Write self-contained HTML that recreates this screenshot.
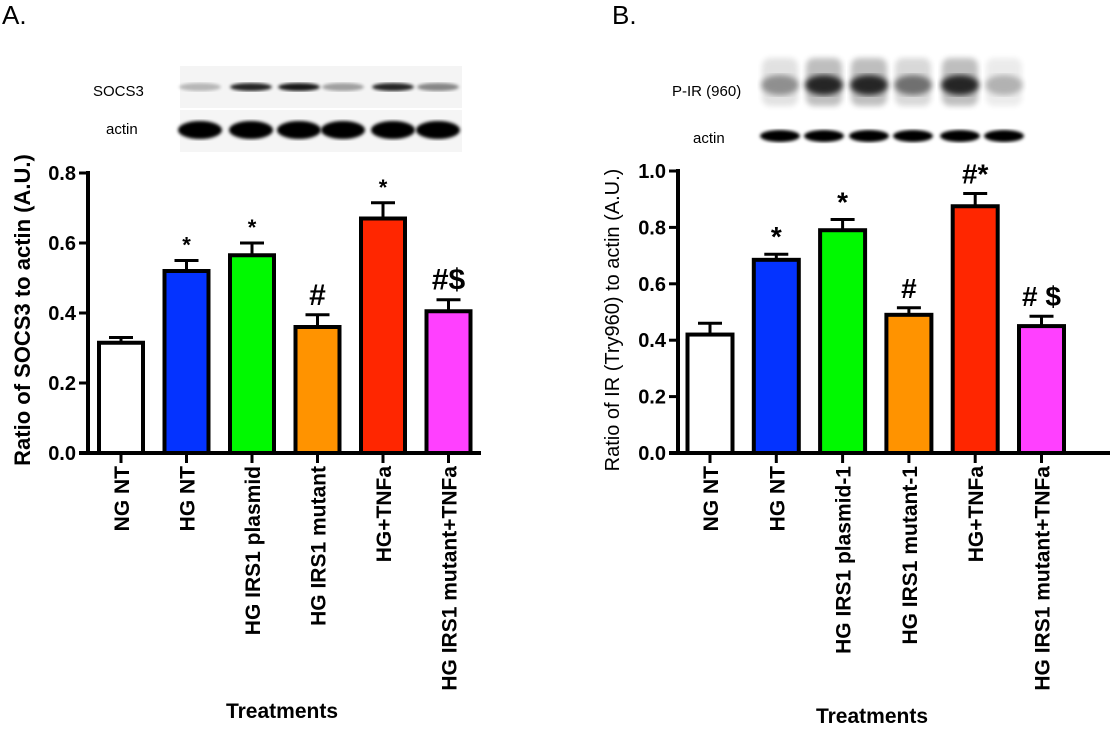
<!DOCTYPE html>
<html><head><meta charset="utf-8"><style>
body{margin:0;background:#fff;}
svg text{font-family:"Liberation Sans",Arial,sans-serif;}
</style></head><body>
<svg id="fig" width="1112" height="728" viewBox="0 0 1112 728" xmlns="http://www.w3.org/2000/svg">
<defs>
<filter id="blur2"><feGaussianBlur stdDeviation="3"/></filter>
<filter id="blur1"><feGaussianBlur stdDeviation="1.5"/></filter>
</defs>
<text x="2" y="24" font-size="26">A.</text>
<text x="612" y="24" font-size="26">B.</text>
<g id="blots"></g>
<g id="chartA"></g>
<g id="chartB"></g>
</svg>
<script>
const categoriesA = ["NG NT","HG NT","HG IRS1 plasmid","HG IRS1 mutant","HG+TNFa","HG IRS1 mutant+TNFa"];
const valuesA = [0.315,0.52,0.565,0.36,0.67,0.405];
const errorsA = [0.015,0.03,0.035,0.035,0.045,0.033];
const marksA = ["","*","*","#","*","#$"];
const ticksA = [0,0.2,0.4,0.6,0.8];
const categoriesB = ["NG NT","HG NT","HG IRS1 plasmid-1","HG IRS1 mutant-1","HG+TNFa","HG IRS1 mutant+TNFa"];
const valuesB = [0.42,0.685,0.79,0.49,0.875,0.45];
const errorsB = [0.04,0.02,0.038,0.025,0.045,0.035];
const marksB = ["","*","*","#","#*","# $"];
const ticksB = [0,0.2,0.4,0.6,0.8,1.0];
const colors = ["#ffffff","#0433ff","#00f900","#ff9300","#ff2600","#ff40ff"];
const bandA1 = [0.25,0.85,0.9,0.35,0.85,0.45];
const bandB1 = [0.45,1,1,0.6,1,0.3];

const NS="http://www.w3.org/2000/svg";
function mk(parent,tag,attrs,text){const e=document.createElementNS(NS,tag);for(const k in attrs)e.setAttribute(k,attrs[k]);if(text!==undefined)e.textContent=text;parent.appendChild(e);return e;}

function drawChart(g,cfg){
  const {cats,vals,errs,marks,ticks,x0,xEnd,y0,yTop,vmax,c0,step,bw,mk1,mk2}=cfg;
  const ys=v=>y0-(v/vmax)*(y0-yTop);
  const xs=i=>c0+i*step;
  vals.forEach((v,i)=>{
    const top=ys(v+errs[i]);
    const eb=mk(g,'line',{x1:xs(i),x2:xs(i),y1:ys(v),y2:top,stroke:'#000','stroke-width':3});
    
    
    const cap=mk(g,'line',{x1:xs(i)-12,x2:xs(i)+12,y1:top,y2:top,stroke:'#000','stroke-width':3});
    
    
    const r=mk(g,'rect',{x:xs(i)-bw/2,y:ys(v),width:bw,height:y0-ys(v),fill:colors[i],stroke:'#000','stroke-width':4});
    
    
    if(marks[i]){
      const big=marks[i].includes('#');
      const t=mk(g,'text',{x:xs(i),y:top-(big?10:8),'text-anchor':'middle','font-size':big?mk2:mk1,'font-weight':'bold'},marks[i]);
      
      
    }
    const tk=mk(g,'line',{x1:xs(i),x2:xs(i),y1:y0,y2:y0+10,stroke:'#000','stroke-width':3});
    
    
    const lb=mk(g,'text',{x:0,y:0,'text-anchor':'end','font-size':21,'font-weight':'bold',transform:`translate(${xs(i)+8},${y0+13}) rotate(-90)`},cats[i]);
    
    
  });
  const ya=mk(g,'line',{x1:x0,x2:x0,y1:yTop-2,y2:y0+2,stroke:'#000','stroke-width':4});
  
  
  const xa=mk(g,'line',{x1:x0-9,x2:xEnd,y1:y0,y2:y0,stroke:'#000','stroke-width':4});
  
  
  ticks.forEach((t,i)=>{
    const l=mk(g,'line',{x1:x0-9,x2:x0,y1:ys(t),y2:ys(t),stroke:'#000','stroke-width':3});
    
    
    const tx=mk(g,'text',{x:x0-12,y:ys(t)+7,'text-anchor':'end','font-size':20,'font-weight':'bold'},t.toFixed(1));
    
    
  });
}

drawChart(document.getElementById('chartA'),{cats:categoriesA,vals:valuesA,errs:errorsA,marks:marksA,ticks:ticksA,x0:88,xEnd:481,y0:453,yTop:173,vmax:0.8,c0:121,step:65.5,bw:44,mk1:22,mk2:30});
drawChart(document.getElementById('chartB'),{cats:categoriesB,vals:valuesB,errs:errorsB,marks:marksB,ticks:ticksB,x0:678,xEnd:1110,y0:453,yTop:171,vmax:1.0,c0:710,step:66.3,bw:45,mk1:28,mk2:28});

const gA=document.getElementById('chartA'), gB=document.getElementById('chartB');
let t;
t=mk(gA,'text',{x:0,y:0,'text-anchor':'middle','font-size':22,'font-weight':'bold',transform:'translate(30,310) rotate(-90)'},'Ratio of SOCS3 to actin (A.U.)');


t=mk(gA,'text',{x:282,y:718,'text-anchor':'middle','font-size':21,'font-weight':'bold'},'Treatments');


t=mk(gB,'text',{x:0,y:0,'text-anchor':'middle','font-size':20,transform:'translate(619,320) rotate(-90)'},'Ratio of IR (Try960) to actin (A.U.)');


t=mk(gB,'text',{x:872,y:723,'text-anchor':'middle','font-size':21,'font-weight':'bold'},'Treatments');



const gb=document.getElementById('blots');
let e;
e=mk(gb,'rect',{x:180,y:66,width:282,height:42,fill:'#f4f4f4'});


e=mk(gb,'rect',{x:180,y:110,width:282,height:42,fill:'#f5f5f5'});


bandA1.forEach((a,i)=>{
  const cx=[200,251,299,343,393,438][i];
  e=mk(gb,'ellipse',{cx:cx,cy:87,rx:21,ry:4,fill:'#000',opacity:a,filter:'url(#blur1)'});
  
  
  e=mk(gb,'ellipse',{cx:cx,cy:130,rx:22,ry:9,fill:'#000',filter:'url(#blur1)'});
  
  
});
bandB1.forEach((a,i)=>{
  const cx=[780,824,869,913,960,1004][i];
  e=mk(gb,'rect',{x:cx-18,y:58,width:36,height:48,rx:8,fill:'#000',opacity:a*0.25,filter:'url(#blur2)'});
  
  
  e=mk(gb,'ellipse',{cx:cx,cy:85,rx:19,ry:10,fill:'#000',opacity:a*0.8,filter:'url(#blur2)'});
  
  
  e=mk(gb,'ellipse',{cx:cx,cy:136,rx:20,ry:6,fill:'#000',filter:'url(#blur1)'});
  
  
});
t=mk(gb,'text',{x:93,y:96,'font-size':15},'SOCS3');


t=mk(gb,'text',{x:106,y:134,'font-size':15},'actin');


t=mk(gb,'text',{x:672,y:96,'font-size':15},'P-IR (960)');


t=mk(gb,'text',{x:693,y:143,'font-size':15},'actin');


</script>
</body></html>
